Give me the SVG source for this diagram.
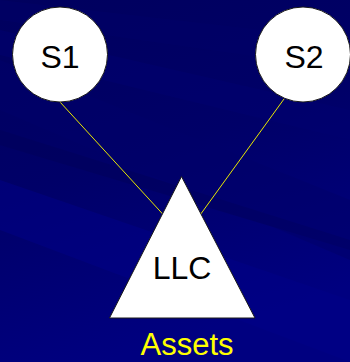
<svg xmlns="http://www.w3.org/2000/svg" width="350" height="362" viewBox="0 0 350 362">
<defs>
<linearGradient id="bg" x1="0" y1="0" x2="0.3" y2="1">
<stop offset="0" stop-color="#00005e"/>
<stop offset="0.5" stop-color="#000068"/>
<stop offset="1" stop-color="#000080"/>
</linearGradient>
<style>
.node{fill:#ffffff;stroke:#1a1a1a;stroke-width:1}
.lbl{font-family:"Liberation Sans",Arial,sans-serif;font-size:32px;fill:#000000;text-anchor:middle}
.conn{stroke:#e8e800;stroke-width:1;fill:none}
</style>
</defs>
<rect x="0" y="0" width="350" height="362" fill="url(#bg)"/>
<g id="background-bands" opacity="0.5">
<polygon points="0,60 350,200 350,260 0,110" fill="#00006a"/>
<polygon points="0,180 350,300 350,362 0,230" fill="#000088"/>
<polygon points="0,30 350,110 350,140 0,55" fill="#000070"/>
<polygon points="0,0 350,40 350,70 0,20" fill="#000068"/>
<polygon points="0,130 350,240 350,250 0,145" fill="#00005a"/>
</g>
<g id="connectors">
<line class="conn" x1="60" y1="102" x2="170" y2="222"/>
<line class="conn" x1="284" y1="99" x2="195" y2="222"/>
</g>
<g id="S1">
<circle class="node" cx="60" cy="54.5" r="47.5"/>
<text class="lbl" x="60" y="68">S1</text>
</g>
<g id="S2">
<circle class="node" cx="303" cy="54.5" r="47.5"/>
<text class="lbl" x="304" y="68">S2</text>
</g>
<g id="LLC">
<polygon class="node" points="181.5,176.5 255,318 109.5,318"/>
<text class="lbl" x="182" y="279">LLC</text>
</g>
<g id="Assets">
<text x="187" y="355" style="font-family:'Liberation Sans',Arial,sans-serif;font-size:31px;fill:#ffff00;text-anchor:middle">Assets</text>
</g>
</svg>
